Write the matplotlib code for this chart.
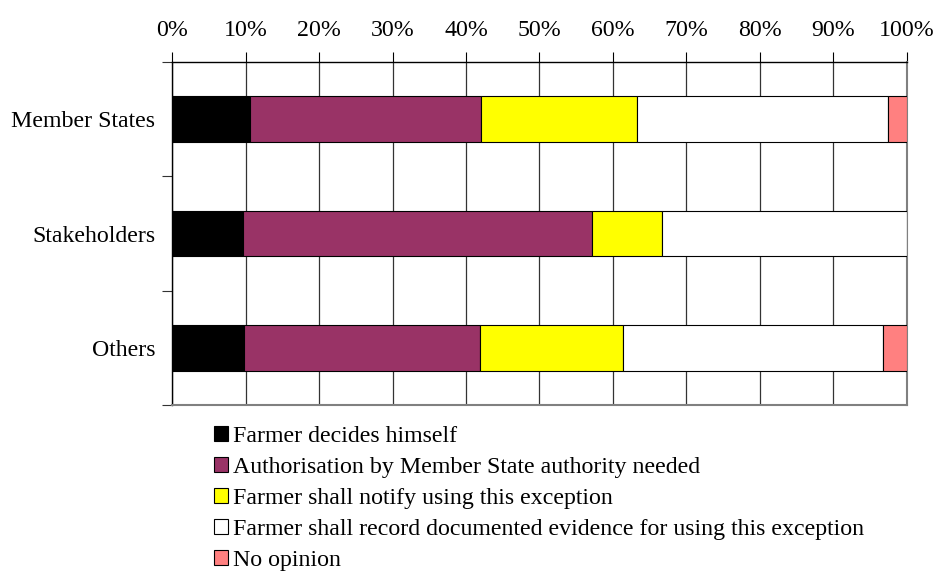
import numpy as np
import matplotlib.pyplot as plt
from matplotlib.patches import Patch

plt.rcParams['font.family'] = ['Liberation Serif', 'DejaVu Serif']

# donnees (en %)
categories = ["Member States", "Stakeholders", "Others"]
series_labels = [
    "Farmer decides himself",
    "Authorisation by Member State authority needed",
    "Farmer shall notify using this exception",
    "Farmer shall record documented evidence for using this exception",
    "No opinion",
]
decides = [10.6, 9.6, 9.8]
authorisation = [31.5, 47.5, 32.1]
notify = [21.1, 9.6, 19.4]
record = [34.2, 33.3, 35.5]
no_opinion = [2.6, 0.0, 3.2]
x_ticks = [0, 10, 20, 30, 40, 50, 60, 70, 80, 90, 100]

colors = ["#000000", "#993366", "#FFFF00", "#FFFFFF", "#FF8080"]
fs = 17.2

fig = plt.figure(figsize=(9.35, 5.78), dpi=100)
ax = fig.add_axes([0.184, 0.2993, 0.786, 0.5934])

y = np.arange(len(categories))
left = np.zeros(len(categories))
for vals, col in zip([decides, authorisation, notify, record, no_opinion], colors):
    vals = np.array(vals)
    ax.barh(y, vals, left=left, height=0.4, color=col, edgecolor="black",
            linewidth=0.8, zorder=3)
    left = left + vals

ax.set_xlim(0, 100)
ax.set_ylim(2.5, -0.5)

# axe des x en haut
ax.xaxis.set_ticks_position("top")
ax.set_xticks(x_ticks)
ax.set_xticklabels([f"{v}%" for v in x_ticks], fontsize=fs)
ax.tick_params(axis="x", length=7, width=0.8, pad=8, color="black")
ax.grid(axis="x", color="#333333", linewidth=0.9, zorder=0)

# categories + petits traits entre les groupes
ax.set_yticks(y)
ax.set_yticklabels(categories, fontsize=fs)
ax.set_yticks([-0.5, 0.5, 1.5, 2.5], minor=True)
ax.tick_params(axis="y", which="major", length=0, pad=12)
ax.tick_params(axis="y", which="minor", length=7, width=0.8, color="#333333")

for side in ["left", "top"]:
    ax.spines[side].set_color("black")
    ax.spines[side].set_linewidth(1.0)
for side in ["right", "bottom"]:
    ax.spines[side].set_color("#808080")
    ax.spines[side].set_linewidth(1.5)

handles = [Patch(facecolor=c, edgecolor="black", linewidth=0.8) for c in colors]
fig.legend(handles, series_labels, loc="upper left", bbox_to_anchor=(0.229, 0.263),
           frameon=False, fontsize=fs, handlelength=0.6, handleheight=0.6,
           handletextpad=0.2, labelspacing=0.42, borderaxespad=0, borderpad=0)

fig.savefig("out.png", dpi=100)
